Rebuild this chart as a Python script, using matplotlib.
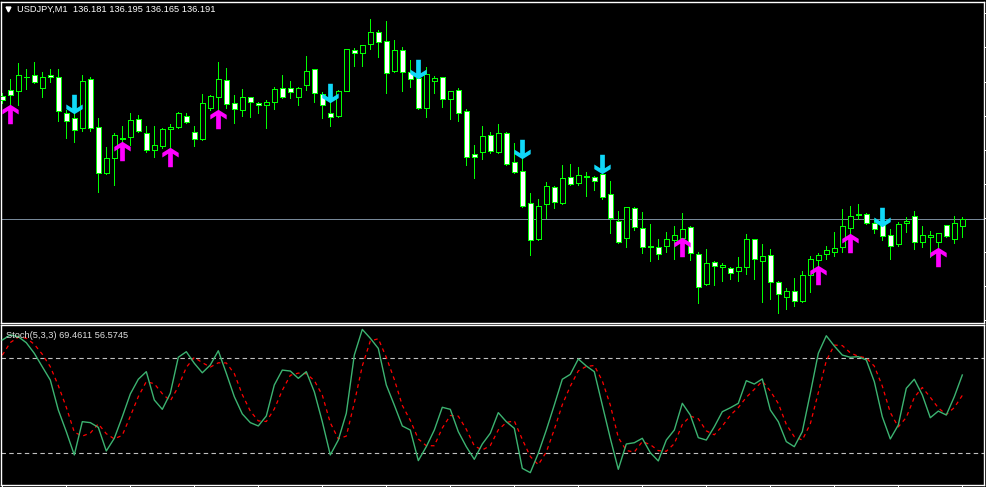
import numpy as np
import matplotlib
matplotlib.use("Agg")
import matplotlib.pyplot as plt
from matplotlib.path import Path

# USDJPY M1 candles
opens = [136.376, 136.385, 136.384, 136.405, 136.408, 136.388, 136.408, 136.404, 136.350, 136.343,
         136.328, 136.401, 136.329, 136.260, 136.283, 136.313, 136.314, 136.341, 136.320, 136.295,
         136.301, 136.326, 136.329, 136.346, 136.322, 136.311, 136.358, 136.374, 136.400, 136.365,
         136.355, 136.374, 136.365, 136.362, 136.367, 136.388, 136.388, 136.374, 136.392, 136.416,
         136.379, 136.350, 136.346, 136.384, 136.445, 136.440, 136.454, 136.472, 136.458, 136.413,
         136.445, 136.412, 136.403, 136.358, 136.398, 136.404, 136.371, 136.385, 136.353, 136.289,
         136.292, 136.317, 136.292, 136.320, 136.277, 136.263, 136.215, 136.161, 136.214, 136.239,
         136.215, 136.254, 136.245, 136.256, 136.254, 136.259, 136.229, 136.188, 136.163, 136.208,
         136.178, 136.151, 136.149, 136.151, 136.160, 136.163, 136.180, 136.139, 136.094, 136.127,
         136.119, 136.118, 136.113, 136.119, 136.161, 136.128, 136.137, 136.097, 136.074, 136.083,
         136.068, 136.107, 136.130, 136.139, 136.142, 136.149, 136.178, 136.199, 136.199, 136.185,
         136.184, 136.167, 136.154, 136.185, 136.196, 136.157, 136.164, 136.157, 136.182, 136.161,
         136.181]
highs = [136.380, 136.402, 136.426, 136.416, 136.427, 136.412, 136.416, 136.416, 136.355, 136.350,
         136.408, 136.404, 136.343, 136.299, 136.320, 136.331, 136.350, 136.347, 136.331, 136.331,
         136.328, 136.334, 136.352, 136.350, 136.331, 136.379, 136.377, 136.427, 136.418, 136.377,
         136.386, 136.375, 136.367, 136.370, 136.390, 136.408, 136.398, 136.389, 136.436, 136.417,
         136.382, 136.370, 136.385, 136.447, 136.448, 136.452, 136.491, 136.475, 136.488, 136.460,
         136.449, 136.430, 136.404, 136.420, 136.406, 136.405, 136.384, 136.388, 136.356, 136.302,
         136.331, 136.322, 136.334, 136.322, 136.305, 136.283, 136.230, 136.221, 136.247, 136.241,
         136.272, 136.274, 136.269, 136.262, 136.256, 136.260, 136.248, 136.203, 136.210, 136.209,
         136.202, 136.184, 136.161, 136.172, 136.181, 136.200, 136.181, 136.142, 136.146, 136.128,
         136.125, 136.119, 136.134, 136.169, 136.162, 136.154, 136.146, 136.098, 136.088, 136.103,
         136.113, 136.136, 136.140, 136.151, 136.172, 136.206, 136.211, 136.214, 136.200, 136.191,
         136.185, 136.176, 136.187, 136.194, 136.203, 136.181, 136.173, 136.170, 136.183, 136.196,
         136.195]
lows = [136.366, 136.362, 136.362, 136.386, 136.396, 136.374, 136.397, 136.338, 136.313, 136.307,
        136.323, 136.323, 136.232, 136.259, 136.242, 136.280, 136.302, 136.322, 136.292, 136.284,
        136.298, 136.298, 136.328, 136.335, 136.301, 136.310, 136.355, 136.355, 136.358, 136.335,
        136.346, 136.344, 136.350, 136.328, 136.356, 136.373, 136.373, 136.362, 136.385, 136.367,
        136.343, 136.331, 136.345, 136.383, 136.421, 136.421, 136.446, 136.434, 136.380, 136.412,
        136.383, 136.390, 136.357, 136.344, 136.380, 136.360, 136.341, 136.338, 136.272, 136.253,
        136.281, 136.290, 136.290, 136.273, 136.260, 136.210, 136.137, 136.160, 136.193, 136.208,
        136.214, 136.242, 136.242, 136.226, 136.235, 136.221, 136.170, 136.156, 136.149, 136.175,
        136.140, 136.128, 136.131, 136.142, 136.131, 136.149, 136.130, 136.065, 136.093, 136.092,
        136.098, 136.101, 136.098, 136.109, 136.101, 136.067, 136.071, 136.050, 136.056, 136.061,
        136.067, 136.082, 136.107, 136.131, 136.136, 136.142, 136.149, 136.191, 136.184, 136.170,
        136.160, 136.131, 136.151, 136.172, 136.146, 136.149, 136.134, 136.142, 136.165, 136.155,
        136.165]
closes = [136.370, 136.378, 136.408, 136.404, 136.397, 136.404, 136.404, 136.353, 136.338, 136.325,
          136.398, 136.328, 136.260, 136.283, 136.318, 136.312, 136.340, 136.323, 136.295, 136.302,
          136.326, 136.329, 136.350, 136.337, 136.311, 136.365, 136.376, 136.401, 136.364, 136.356,
          136.374, 136.367, 136.362, 136.367, 136.386, 136.374, 136.382, 136.388, 136.413, 136.380,
          136.362, 136.344, 136.384, 136.446, 136.440, 136.452, 136.472, 136.457, 136.410, 136.445,
          136.412, 136.401, 136.358, 136.409, 136.403, 136.371, 136.383, 136.350, 136.284, 136.284,
          136.316, 136.293, 136.320, 136.274, 136.262, 136.211, 136.160, 136.211, 136.241, 136.217,
          136.253, 136.244, 136.257, 136.255, 136.248, 136.224, 136.193, 136.157, 136.209, 136.180,
          136.149, 136.150, 136.139, 136.161, 136.167, 136.176, 136.140, 136.089, 136.125, 136.121,
          136.122, 136.110, 136.119, 136.161, 136.131, 136.136, 136.097, 136.079, 136.083, 136.068,
          136.107, 136.131, 136.137, 136.145, 136.148, 136.181, 136.196, 136.198, 136.185, 136.176,
          136.166, 136.151, 136.184, 136.188, 136.157, 136.167, 136.167, 136.170, 136.166, 136.185,
          136.191]

# signal arrows: bar index + price of arrow centre
sell_bars = [9, 41, 52, 65, 75, 110]
sell_prices = [136.364, 136.381, 136.416, 136.296, 136.274, 136.195]
buy_bars = [1, 15, 21, 27, 85, 102, 106, 117]
buy_prices = [136.349, 136.294, 136.284, 136.342, 136.149, 136.108, 136.156, 136.135]

# Stochastic(5,3,3)
stoch_k = [91.6, 94.8, 93.7, 89.9, 83.2, 74.7, 66.3, 47.4, 33.7, 19.0,
           40.0, 39.4, 36.4, 21.5, 29.5, 43.1, 57.5, 66.8, 71.6, 53.7,
           47.8, 57.9, 80.7, 84.2, 76.9, 70.9, 75.8, 84.8, 70.6, 55.8,
           44.9, 39.4, 37.3, 43.6, 63.2, 72.6, 72.0, 67.4, 71.6, 58.9,
           40.0, 19.0, 28.4, 45.3, 82.1, 98.3, 92.7, 86.3, 63.2, 50.5,
           37.3, 34.7, 15.4, 24.2, 34.7, 49.1, 47.8, 33.7, 24.2, 16.2,
           25.9, 32.7, 45.7, 40.0, 35.8, 10.5, 7.8, 20.0, 34.7, 50.5,
           66.8, 69.9, 79.6, 75.2, 71.6, 50.5, 29.5, 9.9, 25.9, 26.7,
           29.5, 20.4, 15.2, 28.4, 34.7, 51.6, 44.2, 29.9, 28.4, 36.8,
           46.3, 48.8, 51.6, 65.9, 63.8, 67.0, 47.4, 40.0, 27.4, 24.2,
           33.7, 57.9, 83.2, 94.3, 87.8, 82.1, 80.7, 81.1, 79.0, 65.3,
           43.1, 29.1, 37.9, 61.1, 66.8, 56.9, 42.5, 46.7, 44.2, 55.8,
           69.5]
stoch_d = [82.0, 90.0, 93.4, 92.8, 88.9, 82.6, 74.7, 62.8, 49.1, 33.4,
           30.9, 32.8, 38.6, 32.4, 29.1, 31.4, 43.4, 55.8, 65.3, 64.0,
           57.7, 53.1, 62.1, 74.3, 80.6, 77.3, 74.5, 77.2, 77.1, 70.4,
           57.1, 46.7, 40.5, 40.1, 48.0, 59.8, 69.3, 70.7, 70.3, 66.0,
           56.8, 39.3, 29.1, 30.9, 51.9, 75.2, 91.0, 92.4, 80.7, 66.7,
           50.3, 40.8, 29.1, 24.8, 24.8, 36.0, 43.9, 43.5, 35.2, 24.7,
           22.1, 24.9, 34.8, 39.5, 40.5, 28.8, 18.0, 12.8, 20.8, 35.1,
           50.7, 62.4, 72.1, 74.9, 75.5, 65.8, 50.5, 30.0, 21.8, 20.8,
           27.4, 25.5, 21.7, 21.3, 26.1, 38.2, 43.5, 41.9, 34.2, 31.7,
           37.2, 44.0, 48.9, 55.4, 60.4, 65.6, 59.4, 51.5, 38.3, 30.5,
           28.4, 38.6, 58.3, 78.5, 88.4, 88.1, 83.5, 81.3, 80.3, 75.1,
           62.5, 45.8, 36.7, 42.7, 55.3, 61.6, 55.4, 48.7, 44.5, 48.9,
           56.6]
levels = [20, 80]
price_ticks = [136.500, 136.449, 136.397, 136.346, 136.295, 136.244, 136.193, 136.142, 136.091, 136.040]
time_ticks = list(range(0, 121, 8))

W, H = 986, 487
fig = plt.figure(figsize=(W / 100, H / 100), dpi=100, facecolor='black')

ax1 = fig.add_axes([1 / W, (H - 323.3) / H, 983.3 / W, 321.8 / H], facecolor='black')
ax2 = fig.add_axes([1 / W, (H - 485.3) / H, 983.3 / W, 160 / H], facecolor='black')

x = np.arange(len(opens))
o = np.array(opens); h = np.array(highs); l = np.array(lows); c = np.array(closes)
bull = c >= o
lime = '#00ff00'
px = 0.72  # one pixel in points

ax1.vlines(x, l, h, color=lime, lw=px, antialiased=False, zorder=2)
ax1.bar(x, np.abs(c - o), bottom=np.minimum(o, c), width=0.6,
        color=np.where(bull, 'black', 'white'), edgecolor=lime, linewidth=px,
        antialiased=False, zorder=3)

# bid line
ax1.axhline(closes[-1], color='#778899', lw=px, zorder=1)

# arrow markers (shaft + thick chevron head)
down = Path([(-2.3, 9.5), (2.3, 9.5), (2.3, -3.6), (8, 0), (8, -4.5), (0, -9.5),
             (-8, -4.5), (-8, 0), (-2.3, -3.6), (-2.3, 9.5)])
up = Path([(vx, -vy) for vx, vy in down.vertices])
ax1.plot(sell_bars, sell_prices, ls='none', marker=down, markersize=14,
         color='#10d8f8', markeredgewidth=0, zorder=5)
ax1.plot(buy_bars, buy_prices, ls='none', marker=up, markersize=14,
         color='#ff00ff', markeredgewidth=0, zorder=5)

xlim = ((1 - 2.3) / 8, (984.3 - 2.3) / 8)
ax1.set_xlim(xlim)
ax1.set_ylim(136.52 - 0.0015 * 323.3, 136.52 - 0.0015 * 1.5)

# stochastic
ax2.plot(x, stoch_k, color='#3cb371', lw=1.0, zorder=3)
ax2.plot(x, stoch_d, color='red', lw=0.9, ls=(0, (3, 3)), zorder=2)
for lv in levels:
    ax2.axhline(lv, color='#c0c0c0', lw=0.8, ls=(0, (4, 3)), zorder=1)
ax2.set_xlim(xlim)
ax2.set_ylim(-0.2, 100.9)

for ax in (ax1, ax2):
    for s in ax.spines.values():
        s.set_color('white')
        s.set_linewidth(1.0)
    ax.tick_params(colors='white', labelleft=False, labelbottom=False,
                   labelright=False, width=px, length=1.6, direction='out')

ax1.set_xticks([])
ax1.yaxis.tick_right()
ax1.set_yticks(price_ticks)
ax2.set_yticks([])
ax2.set_xticks(time_ticks)

fig.text(17 / W, 1 - 9.5 / H, 'USDJPY,M1  136.181 136.195 136.165 136.191',
         color='white', fontsize=6.7, va='center', ha='left', family='Liberation Sans')
fig.text(6 / W, 1 - 335 / H, 'Stoch(5,3,3) 69.4611 56.5745',
         color='#e0e0e0', fontsize=6.7, va='center', ha='left', family='Liberation Sans')
fig.lines.append(plt.Line2D([8 / W], [1 - 9 / H], marker='v', markersize=3.5,
                            color='white', transform=fig.transFigure))

fig.savefig('out.png', dpi=100, facecolor='black')
